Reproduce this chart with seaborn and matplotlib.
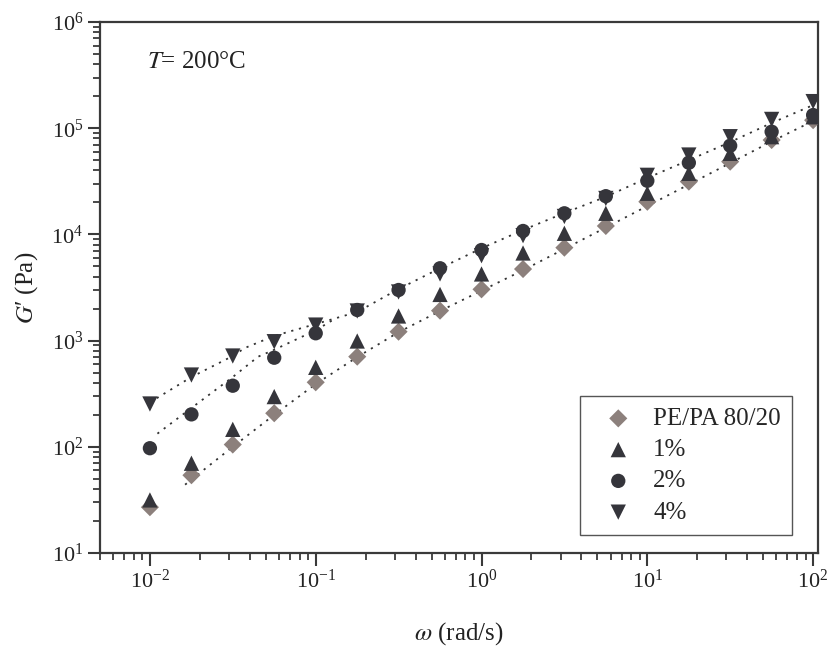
import numpy as np
import pandas as pd
import matplotlib
matplotlib.use("Agg")
import matplotlib.pyplot as plt
import matplotlib.ticker as mticker
import seaborn as sns

# angular frequency (rad/s)
omega = [0.01, 0.0178, 0.0316, 0.0562, 0.1, 0.178, 0.316, 0.562, 1.0,
         1.78, 3.16, 5.62, 10, 17.8, 31.6, 56.2, 100]

# storage modulus G' (Pa)
g_blend = [27, 54, 105, 207, 405, 706, 1213, 1914, 3040, 4720, 7500,
           12000, 20300, 31400, 48400, 77400, 119000]
g_1pct = [31.6, 70, 146, 297, 560, 991, 1705, 2720, 4240, 6680, 10240,
          15800, 24400, 37600, 58000, 83200, 128000]
g_2pct = [97, 202, 376, 690, 1172, 1942, 2995, 4800, 7130, 10770, 15800,
          22900, 32000, 47300, 68400, 92700, 133000]
g_4pct = [253, 474, 716, 977, 1400, 1900, 2870, 4240, 6300, 9730, 14750,
          21800, 36000, 55900, 83200, 121000, 178000]

labels = ["PE/PA 80/20", "1%", "2%", "4%"]

# dotted model curves
fitA_w = [0.011, 0.0178, 0.0316, 0.0373, 0.0562, 0.1, 0.178, 0.316, 0.562,
          1.0, 1.78, 3.16, 5.62, 10, 17.8, 31.6, 56.2, 100]
fitA_g = [287, 454, 716, 851, 1107, 1432, 1860, 3060, 4800, 7400, 11000,
          15900, 22600, 34000, 50000, 74000, 112000, 165000]
fitB_w = [0.0111, 0.02, 0.0316, 0.0449, 0.0562, 0.1, 0.13]
fitB_g = [133, 266, 454, 705, 820, 1250, 1600]
fitC_w = [0.0163, 0.0316, 0.0562, 0.1, 0.178, 0.316, 0.562, 1.0, 1.78,
          3.16, 5.62, 10, 17.8, 31.6, 56.2, 100]
fitC_g = [44, 100, 200, 390, 700, 1200, 1900, 2950, 4600, 7300, 11600,
          18500, 29500, 47000, 75000, 117000]

sns.set_theme(style="ticks")
plt.rcParams["font.family"] = ["Liberation Serif", "DejaVu Serif"]
plt.rcParams["mathtext.fontset"] = "stix"
plt.rcParams["axes.unicode_minus"] = False

fig = plt.figure(figsize=(8.27, 6.46), dpi=100)
ax = fig.add_axes([100 / 827, 1 - 553 / 646, 718 / 827, 531 / 646])

dark = "#35353b"
grey = "#8c807c"
line_kw = dict(color="#333333", linestyle=(0, (1.2, 3.2)), linewidth=1.3,
               estimator=None, sort=False, legend=False, ax=ax)
sns.lineplot(x=fitA_w, y=fitA_g, **line_kw)
sns.lineplot(x=fitB_w, y=fitB_g, **line_kw)
sns.lineplot(x=fitC_w, y=fitC_g, **line_kw)

series = [g_blend, g_1pct, g_2pct, g_4pct]
markers = ["D", "^", "o", "v"]
sizes = [85, 121, 106, 121]
colors = [grey, dark, dark, dark]
for vals, lab, m, s, c in zip(series, labels, markers, sizes, colors):
    sns.scatterplot(x=omega, y=vals, marker=m, s=s, color=c,
                    edgecolor="none", label=lab, ax=ax, zorder=3)

ax.set_xscale("log")
ax.set_yscale("log")
ax.set_xlim(0.005, 107)
ax.set_ylim(10, 1e6)

for axis in (ax.xaxis, ax.yaxis):
    axis.set_major_locator(mticker.LogLocator(base=10, numticks=20))
    axis.set_minor_locator(mticker.LogLocator(base=10, subs=np.arange(2, 10),
                                              numticks=100))
    axis.set_minor_formatter(mticker.NullFormatter())

spine_c = "#3a3a3a"
for sp in ax.spines.values():
    sp.set_visible(True)
    sp.set_color(spine_c)
    sp.set_linewidth(1.6)
ax.tick_params(which="major", length=9, width=1.5, color=spine_c,
               labelsize=16, pad=3, labelcolor="#222222")
ax.tick_params(which="minor", length=5, width=1.3, color=spine_c)
ax.tick_params(top=False, right=False, which="both")

ax.set_xlabel(r"$\omega$ (rad/s)", fontsize=18, labelpad=20, color="#222222")
ax.set_ylabel(r"$G$′ (Pa)", fontsize=18, labelpad=8, color="#222222")

ax.text(0.065, 0.913, r"$T$= 200°C", transform=ax.transAxes,
        fontsize=18, va="baseline", ha="left", color="#222222")

handles, labs = ax.get_legend_handles_labels()
leg = ax.legend(handles, labs, loc="lower right",
                bbox_to_anchor=(0.964, 0.034), borderaxespad=0, fontsize=18,
                frameon=True, fancybox=False, edgecolor="#555555",
                framealpha=1, handletextpad=0.3, labelspacing=0.35,
                borderpad=0.45, handlelength=2.2)
leg.get_frame().set_linewidth(1.0)

fig.savefig("out.png", dpi=100)
